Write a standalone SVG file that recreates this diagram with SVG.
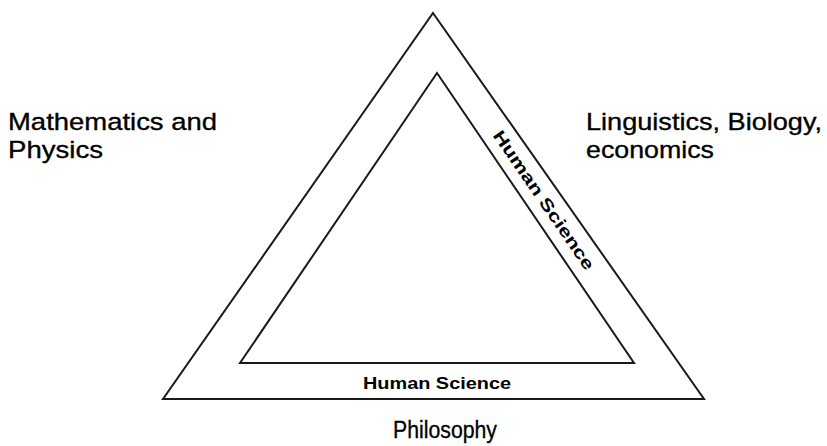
<svg xmlns="http://www.w3.org/2000/svg" width="827" height="446" viewBox="0 0 827 446">
<style>
.tri{fill:none;stroke:#1a1a1a;stroke-width:2;stroke-linejoin:miter}
.lbl{font-family:"Liberation Sans",Arial,sans-serif;font-size:24.5px;fill:#000;stroke:#000;stroke-width:0.35}
.small{font-family:"Liberation Sans",Arial,sans-serif;font-size:17px;font-weight:bold;fill:#000}
.phil{font-family:"Liberation Sans",Arial,sans-serif;font-size:23px;fill:#000;stroke:#000;stroke-width:0.3}
</style>
<rect width="827" height="446" fill="#fff"/>
<g id="outer-triangle"><polygon class="tri" points="433,13 704,399 163,399"/></g>
<g id="inner-triangle"><polygon class="tri" points="437,73 634,363 240,363"/></g>
<g id="math-physics">
<text class="lbl" x="8" y="130" textLength="209" lengthAdjust="spacingAndGlyphs">Mathematics and</text>
<text class="lbl" x="8" y="158" textLength="95" lengthAdjust="spacingAndGlyphs">Physics</text>
</g>
<g id="linguistics">
<text class="lbl" x="586" y="130" textLength="236" lengthAdjust="spacingAndGlyphs">Linguistics, Biology,</text>
<text class="lbl" x="586" y="158" textLength="128" lengthAdjust="spacingAndGlyphs">economics</text>
</g>
<g id="human-science-side">
<text class="small" transform="translate(544,200) rotate(55.5)" x="0" y="6" text-anchor="middle" textLength="165" lengthAdjust="spacingAndGlyphs">Human Science</text>
</g>
<g id="human-science-bottom">
<text class="small" x="437" y="389" text-anchor="middle" textLength="148" lengthAdjust="spacingAndGlyphs">Human Science</text>
</g>
<g id="philosophy">
<text class="phil" x="445" y="438" text-anchor="middle" textLength="104" lengthAdjust="spacingAndGlyphs">Philosophy</text>
</g>
<g id="connectors"></g>
</svg>
